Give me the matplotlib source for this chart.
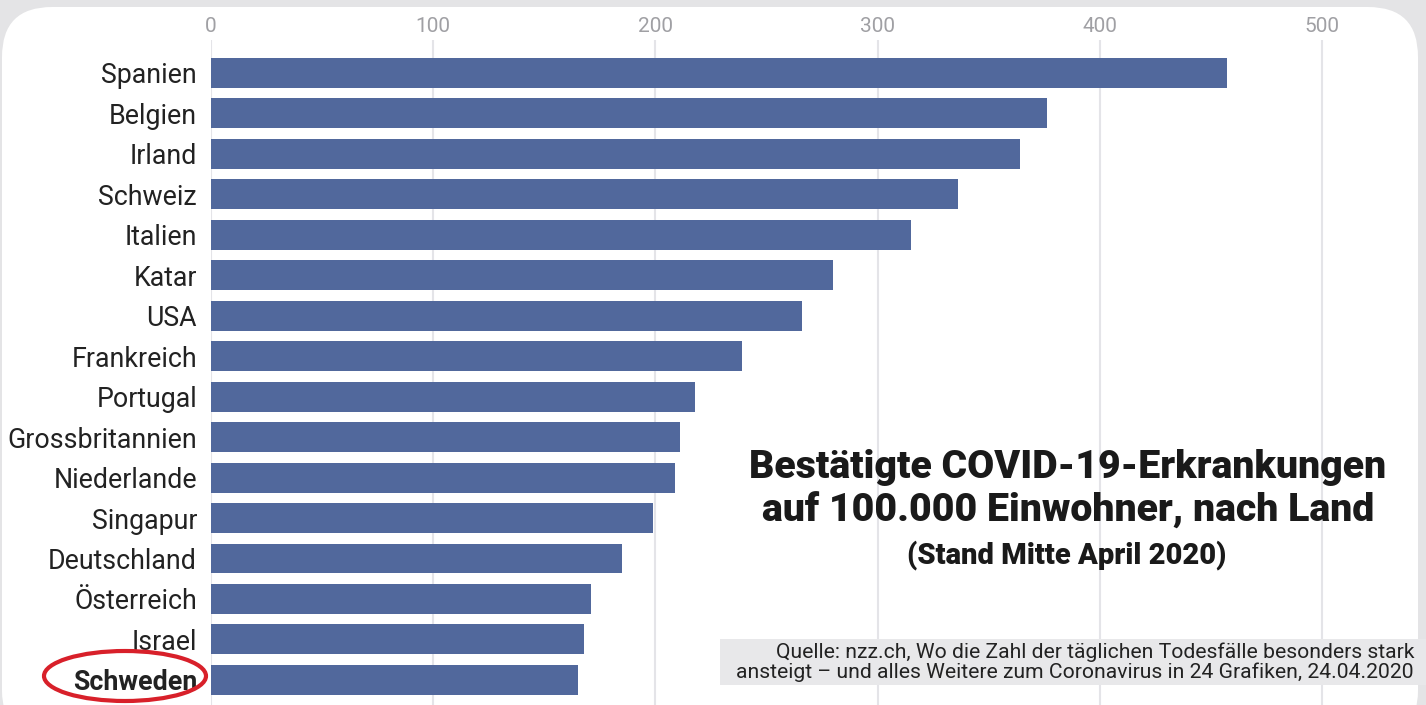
import matplotlib.pyplot as plt
from matplotlib.patches import Ellipse, FancyBboxPatch, Rectangle

laender = ["Spanien", "Belgien", "Irland", "Schweiz", "Italien", "Katar", "USA",
           "Frankreich", "Portugal", "Grossbritannien", "Niederlande", "Singapur",
           "Deutschland", "Österreich", "Israel", "Schweden"]
faelle = [457, 376, 364, 336, 315, 280, 266, 239, 218, 211, 209, 199, 185, 171, 168, 165]
ticks = [0, 100, 200, 300, 400, 500]

W, H = 1426, 705
fig = plt.figure(figsize=(W / 100, H / 100), dpi=100)
fig.patch.set_facecolor("#e4e4e6")

# weisses Panel mit runden Ecken
panel = FancyBboxPatch((2 / W, -0.05), (W - 10) / W, (H - 7) / H + 0.05,
                       boxstyle="round,pad=0,rounding_size=0.035",
                       transform=fig.transFigure, facecolor="white",
                       edgecolor="none", mutation_aspect=W / H, zorder=0)
fig.patches.append(panel)

ax = fig.add_axes([211 / W, 0, 1200 / W, (H - 40) / H])
ax.set_zorder(2)
ax.set_facecolor("none")
ax.barh(range(len(laender)), faelle, height=0.74, color="#51689c", zorder=3)
ax.set_xlim(0, 540)
ax.set_ylim(15.62, -0.81)
ax.set_xticks(ticks)
ax.xaxis.tick_top()
ax.tick_params(axis="x", length=0, pad=3, labelsize=15, labelcolor="#a0a0a4")
for t in ax.get_xticklabels():
    t.set_fontfamily("Roboto")
ax.set_yticks(range(len(laender)))
ax.set_yticklabels(laender, fontsize=19.3, color="#222222", fontfamily="Roboto")
ax.tick_params(axis="y", length=0, pad=10)
ax.get_yticklabels()[-1].set_fontweight("bold")
ax.grid(axis="x", color="#e4e4e8", linewidth=1.5, zorder=1)
for s in ax.spines.values():
    s.set_visible(False)

# rote Markierung um Schweden
fig.patches.append(Ellipse((125 / W, 1 - 676 / H), 162 / W, 50 / H,
                           transform=fig.transFigure, fill=False,
                           edgecolor="#d8202a", linewidth=3, zorder=5))

# Titel
titel = ["Bestätigte COVID-19-Erkrankungen", "auf 100.000 Einwohner, nach Land"]
for i, zeile in enumerate(titel):
    fig.text(1068 / W, 1 - (467 + 44 * i) / H, zeile, ha="center", va="center",
             fontsize=28.3, fontweight="black", fontfamily="Roboto",
             color="#1a1a1a", zorder=6)
fig.text(1067 / W, 1 - 555 / H, "(Stand Mitte April 2020)",
         ha="center", va="center", fontsize=21, fontweight="black",
         fontfamily="Roboto", color="#1a1a1a", zorder=6)

# Quelle
fig.patches.append(Rectangle((720 / W, 1 - 685 / H), (W - 720) / W, 46 / H,
                             transform=fig.transFigure, facecolor="#e8e8ea",
                             edgecolor="none", zorder=4))
fig.text(1414 / W, 1 - 662 / H,
         "Quelle: nzz.ch, Wo die Zahl der täglichen Todesfälle besonders stark\n"
         "ansteigt – und alles Weitere zum Coronavirus in 24 Grafiken, 24.04.2020",
         ha="right", va="center", fontsize=15.2, linespacing=1.05,
         fontfamily="Roboto", color="#222222", zorder=6)

fig.savefig("out.png", dpi=100)
